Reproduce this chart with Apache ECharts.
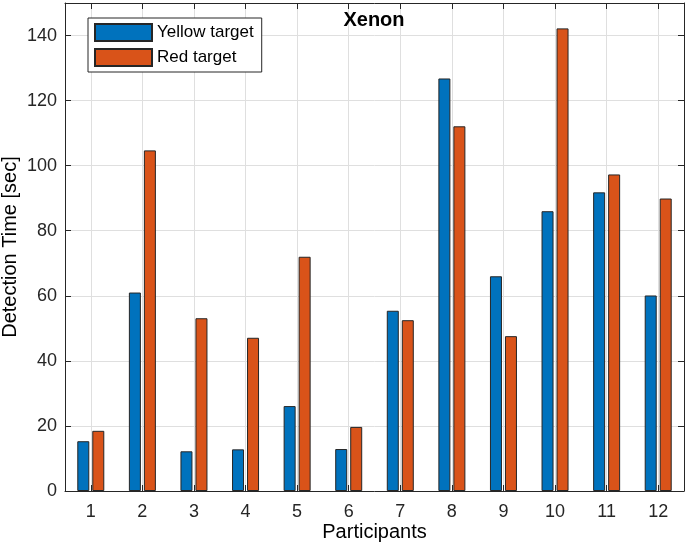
<!DOCTYPE html>
<html>
<head>
<meta charset="utf-8">
<script src="https://cdn.jsdelivr.net/npm/echarts@6/dist/echarts.min.js"></script>
<style>
html,body{margin:0;padding:0;background:#fff;}
#chart{width:685px;height:549px;}
</style>
</head>
<body>
<div id="chart"></div>
<script>
const participants = ['1','2','3','4','5','6','7','8','9','10','11','12'];
const yellowTarget = [15.3, 61.0, 12.2, 12.8, 26.1, 12.9, 55.4, 126.8, 66.0, 86.0, 91.8, 60.1];
const redTarget = [18.5, 104.7, 53.1, 47.1, 72.0, 19.7, 52.5, 112.1, 47.6, 142.2, 97.3, 89.9];
const yTicks = {min: 0, max: 150, interval: 20};

const FONT = '"Liberation Sans", Arial, Helvetica, sans-serif';
const AX = '#262626';
const GRID = '#dfdfdf';

const chart = echarts.init(document.getElementById('chart'), null, {renderer: 'canvas'});
chart.setOption({
  animation: false,
  backgroundColor: '#fff',
  textStyle: {fontFamily: FONT},
  title: {
    text: 'Xenon',
    left: 374, top: 10, padding: 0,
    textAlign: 'center',
    z: 20,
    textStyle: {fontFamily: FONT, fontSize: 20, fontWeight: 'bold', color: '#000'}
  },
  legend: {
    orient: 'vertical',
    left: 88, top: 18,
    itemWidth: 57, itemHeight: 17, itemGap: 6,
    padding: [5, 8, 5, 6],
    borderColor: AX, borderWidth: 1, borderRadius: 0,
    backgroundColor: '#fff',
    icon: 'rect',
    z: 20,
    textStyle: {fontFamily: FONT, fontSize: 17, color: '#000'},
    data: ['Yellow target', 'Red target']
  },
  grid: {left: 65, right: 1, top: 3, bottom: 58, containLabel: false, outerBoundsMode: 'none'},
  xAxis: [{
    type: 'category',
    data: participants,
    position: 'bottom',
    name: 'Participants',
    nameLocation: 'middle',
    nameGap: 31,
    nameMoveOverlap: false,
    nameTextStyle: {fontFamily: FONT, fontSize: 20, color: '#000'},
    axisLine: {show: true, lineStyle: {color: AX, width: 1}},
    axisTick: {show: true, inside: true, alignWithLabel: true, length: 6, lineStyle: {color: AX}},
    axisLabel: {fontFamily: FONT, fontSize: 18, color: AX, margin: 12},
    splitLine: {show: true, alignWithLabel: true, lineStyle: {color: GRID, width: 1}}
  }, {
    type: 'category',
    data: participants,
    position: 'top',
    axisLine: {show: true, onZero: false, lineStyle: {color: AX, width: 1}},
    axisTick: {show: true, inside: true, alignWithLabel: true, length: 6, lineStyle: {color: AX}},
    axisLabel: {show: false},
    splitLine: {show: false}
  }],
  yAxis: [{
    type: 'value',
    min: yTicks.min, max: yTicks.max, interval: yTicks.interval,
    name: 'Detection Time [sec]',
    nameLocation: 'middle',
    nameGap: 45,
    nameMoveOverlap: false,
    nameTextStyle: {fontFamily: FONT, fontSize: 20, color: '#000'},
    axisLine: {show: true, lineStyle: {color: AX, width: 1}},
    axisTick: {show: true, inside: true, length: 6, lineStyle: {color: AX}},
    axisLabel: {fontFamily: FONT, fontSize: 18, color: AX, margin: 8, showMaxLabel: false},
    splitLine: {show: true, lineStyle: {color: GRID, width: 1}}
  }, {
    type: 'value',
    position: 'right',
    min: yTicks.min, max: yTicks.max, interval: yTicks.interval,
    axisLine: {show: true, onZero: false, lineStyle: {color: AX, width: 1}},
    axisTick: {show: true, inside: true, length: 6, lineStyle: {color: AX}},
    axisLabel: {show: false},
    splitLine: {show: false}
  }],
  series: [{
    name: 'Yellow target',
    type: 'bar',
    data: yellowTarget,
    barWidth: 12,
    barGap: '25%',
    itemStyle: {color: '#0072BD', borderColor: AX, borderWidth: 1}
  }, {
    name: 'Red target',
    type: 'bar',
    data: redTarget,
    barWidth: 12,
    barGap: '25%',
    itemStyle: {color: '#D95319', borderColor: AX, borderWidth: 1}
  }]
});
</script>
</body>
</html>
